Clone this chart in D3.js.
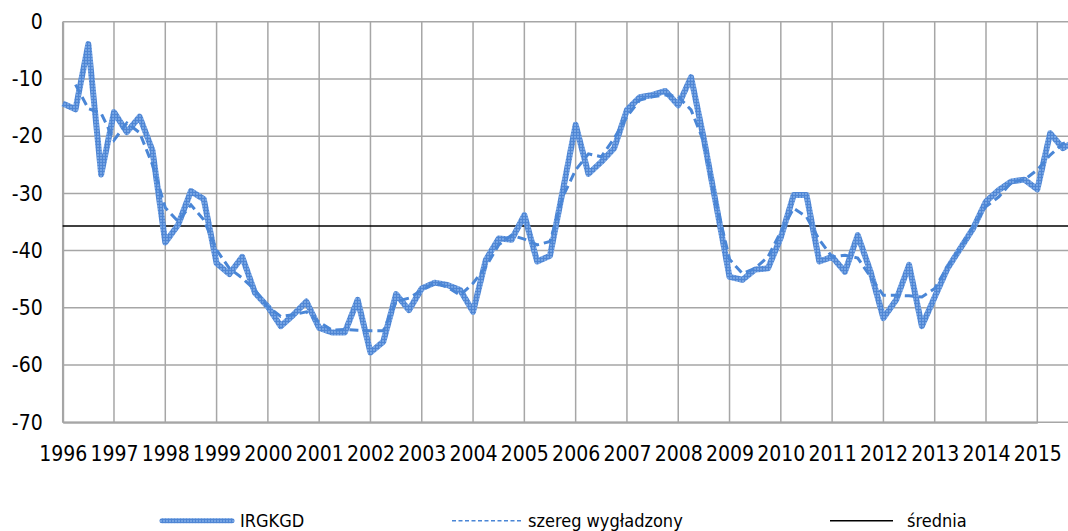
<!DOCTYPE html>
<html>
<head>
<meta charset="utf-8">
<script src="https://cdn.jsdelivr.net/npm/d3@7"></script>
<style>
  body { margin: 0; background: #fff; }
  svg text { font-family: "DejaVu Sans Condensed", "DejaVu Sans", sans-serif; fill: #000; }
</style>
</head>
<body>
<div id="chart"></div>
<script>
// quarterly data, 1996 Q1 onwards
const startYear = 1996;
const yearTicks = d3.range(1996, 2016);
const yTicks = [0, -10, -20, -30, -40, -50, -60, -70];

const irgkgd = [
    -14.3, -15.3, -3.9, -26.7,
    -15.8, -19.3, -16.6, -22.5,
    -38.6, -35.5, -29.6, -31.0,
    -42.2, -44.1, -41.1, -47.4,
    -49.8, -53.2, -51.2, -48.9,
    -53.5, -54.3, -54.3, -48.6,
    -57.8, -55.9, -47.6, -50.4,
    -46.6, -45.6, -46.0, -46.9,
    -50.7, -41.6, -37.9, -38.1,
    -33.8, -41.9, -40.9, -29.5,
    -18.0, -26.6, -24.5, -22.1,
    -15.4, -13.2, -12.8, -12.1,
    -14.6, -9.7, -20.5, -32.5,
    -44.6, -45.1, -43.3, -43.1,
    -37.7, -30.3, -30.3, -41.9,
    -41.1, -43.7, -37.3, -43.7,
    -51.8, -48.6, -42.5, -53.2,
    -48.1, -43.1, -39.6, -36.1,
    -31.4, -29.4, -27.9, -27.6,
    -29.3, -19.5, -22.1, -20.8
];

const smoothed = [
    null, -11.0, -15.2, -16.0,
    -20.7, -17.7, -19.4, -25.0,
    -32.5, -34.9, -32.0, -34.6,
    -39.9, -43.1, -44.8, -46.9,
    -49.8, -51.5, -51.2, -50.7,
    -52.5, -53.9, -53.8, -53.9,
    -54.0, -54.0, -48.9, -48.3,
    -46.9, -45.6, -46.4, -47.8,
    -45.7, -42.8, -39.0, -37.3,
    -38.0, -39.0, -38.4, -30.6,
    -25.9, -23.1, -23.6, -20.4,
    -16.6, -13.7, -13.1, -12.8,
    -13.1, -15.4, -21.0, -32.0,
    -41.5, -44.0, -43.1, -41.1,
    -36.7, -32.6, -34.1, -38.1,
    -41.1, -40.8, -41.3, -44.6,
    -47.8, -47.8, -47.9, -48.1,
    -46.6, -42.8, -39.6, -35.8,
    -32.3, -30.6, -28.0, -27.6,
    -25.9, -23.3, -21.3, -20.5
];

const meanValue = -35.7;

const seriesNames = ["IRGKGD", "szereg wygładzony", "średnia"];

const W = 1068, H = 531;
const plotLeft = 62.7, plotTop = 21.7, plotBottom = 422.3;

const svg = d3.select("#chart")
    .append("svg")
    .attr("width", W)
    .attr("height", H);

// hatched fill for the thick line
const defs = svg.append("defs");
const pat = defs.append("pattern")
    .attr("id", "hatch")
    .attr("patternUnits", "userSpaceOnUse")
    .attr("width", 3)
    .attr("height", 3);
pat.append("rect").attr("width", 3).attr("height", 3).attr("fill", "#74a3e3");
pat.append("rect").attr("width", 3).attr("height", 1).attr("fill", "#4f86d4");
pat.append("rect").attr("width", 1).attr("height", 3).attr("fill", "#4f86d4");

const x = d3.scaleLinear()
    .domain([1996, 2015])
    .range([plotLeft, 1037.3]);

const y = d3.scaleLinear()
    .domain([-70, 0])
    .range([plotBottom, plotTop]);

// grid
svg.append("g")
    .selectAll("line")
    .data(yTicks)
    .enter().append("line")
    .attr("x1", plotLeft).attr("x2", W)
    .attr("y1", d => y(d)).attr("y2", d => y(d))
    .attr("stroke", "#a6a6a6")
    .attr("stroke-width", 1.5);

svg.append("g")
    .selectAll("line")
    .data(yearTicks)
    .enter().append("line")
    .attr("x1", d => x(d)).attr("x2", d => x(d))
    .attr("y1", plotTop).attr("y2", plotBottom)
    .attr("stroke", "#a6a6a6")
    .attr("stroke-width", 1.5);

// axes (plain hyphen for minus, like the original)
const yAxis = svg.append("g")
    .attr("transform", `translate(${plotLeft},0)`)
    .call(d3.axisLeft(y).tickValues(yTicks).tickFormat(d => String(d)).tickSize(0).tickPadding(20));
yAxis.select(".domain").attr("stroke", "#a6a6a6").attr("stroke-width", 2);
yAxis.selectAll("text").style("font-size", "21px");

const xAxis = svg.append("g")
    .attr("transform", `translate(0,${plotBottom})`)
    .call(d3.axisBottom(x).tickValues(yearTicks).tickFormat(d => String(d)).tickSize(0).tickPadding(24));
xAxis.select(".domain").attr("stroke", "#a6a6a6").attr("stroke-width", 2);
xAxis.selectAll("text").style("font-size", "21px");

// mean line
svg.append("line")
    .attr("x1", plotLeft).attr("x2", W)
    .attr("y1", y(meanValue)).attr("y2", y(meanValue))
    .attr("stroke", "#000")
    .attr("stroke-width", 1.3);

const line = d3.line()
    .defined(d => d.v !== null)
    .x(d => x(startYear + d.i / 4))
    .y(d => y(d.v));

svg.append("path")
    .datum(irgkgd.map((v, i) => ({ i, v })))
    .attr("d", line)
    .attr("fill", "none")
    .attr("stroke", "url(#hatch)")
    .attr("stroke-width", 6)
    .attr("stroke-linejoin", "round");

svg.append("path")
    .datum(smoothed.map((v, i) => ({ i, v })))
    .attr("d", line)
    .attr("fill", "none")
    .attr("stroke", "#4a86d6")
    .attr("stroke-width", 3)
    .attr("stroke-dasharray", "9,5");

// legend
const legY = 520.7;
const legend = svg.append("g");

legend.append("line")
    .attr("x1", 162).attr("x2", 232).attr("y1", legY).attr("y2", legY)
    .attr("stroke", "url(#hatch)").attr("stroke-width", 5).attr("stroke-linecap", "round");
legend.append("text").attr("x", 240).attr("y", legY).attr("dy", "0.35em")
    .style("font-size", "18px").text(seriesNames[0]);

legend.append("line")
    .attr("x1", 452).attr("x2", 522).attr("y1", legY).attr("y2", legY)
    .attr("stroke", "#4a86d6").attr("stroke-width", 1.5).attr("stroke-dasharray", "4,2.5");
legend.append("text").attr("x", 528).attr("y", legY).attr("dy", "0.35em")
    .style("font-size", "18px").text(seriesNames[1]);

legend.append("line")
    .attr("x1", 830).attr("x2", 893).attr("y1", legY).attr("y2", legY)
    .attr("stroke", "#000").attr("stroke-width", 1.5);
legend.append("text").attr("x", 907).attr("y", legY).attr("dy", "0.35em")
    .style("font-size", "18px").text(seriesNames[2]);
</script>
</body>
</html>
